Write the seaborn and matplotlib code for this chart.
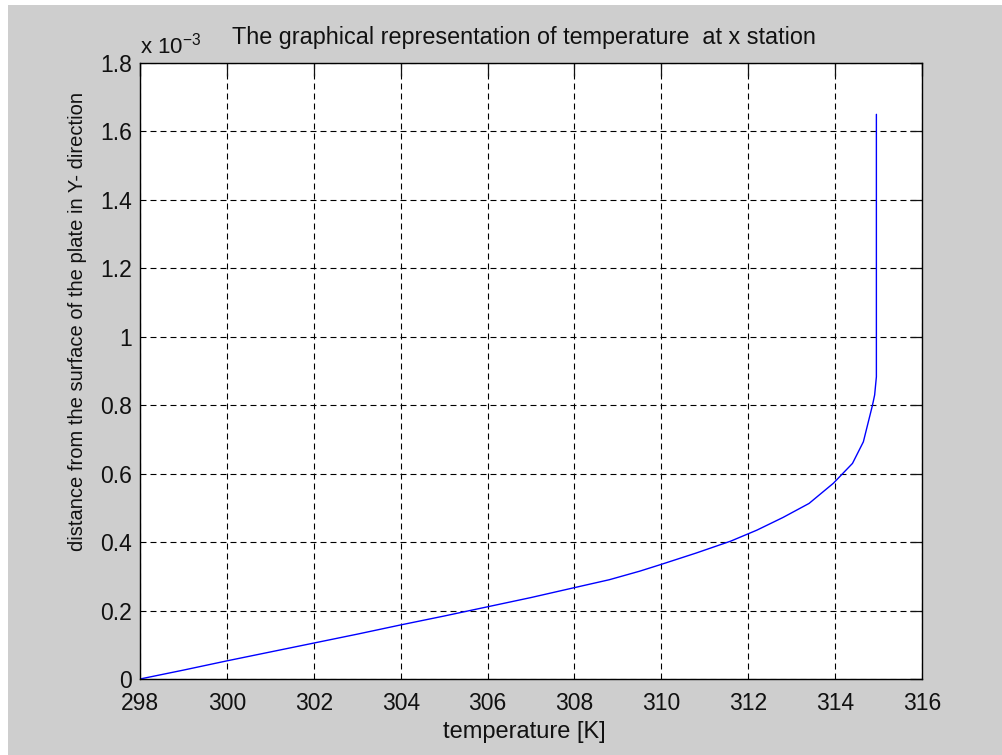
import matplotlib
matplotlib.use('Agg')
import matplotlib.pyplot as plt
import matplotlib.patches as mpatches
import matplotlib.ticker as mticker
import pandas as pd
import seaborn as sns

# dados (distância em unidades de 1e-3)
temperatura = [298.0, 299.0, 300.0, 301.0, 302.0, 303.0, 304.0, 305.0, 306.0, 307.0,
               308.0, 308.8, 309.5, 310.0, 310.8, 311.6, 312.2, 312.8, 313.4, 313.96,
               314.4, 314.65, 314.86, 314.91, 314.95, 314.95]
distancia = [0.0, 0.026, 0.053, 0.079, 0.105, 0.131, 0.158, 0.184, 0.211, 0.238,
             0.267, 0.290, 0.315, 0.335, 0.368, 0.403, 0.435, 0.472, 0.513, 0.572,
             0.630, 0.693, 0.800, 0.830, 0.883, 1.650]
xticks = [298, 300, 302, 304, 306, 308, 310, 312, 314, 316]
yticks = [0, 0.2, 0.4, 0.6, 0.8, 1.0, 1.2, 1.4, 1.6, 1.8]

df = pd.DataFrame({'T': temperatura, 'y': distancia})

sns.set_style('white')
plt.rcParams['font.family'] = ['Liberation Sans', 'DejaVu Sans']
plt.rcParams['lines.scale_dashes'] = False

texto = '#111111'

fig = plt.figure(figsize=(10.03, 7.55), dpi=100, facecolor='white')
fig.patches.append(mpatches.Rectangle((8 / 1003, 0), 1, 1 - 5 / 755, transform=fig.transFigure,
                                      facecolor='#cecece', edgecolor='none', zorder=-10))
ax = fig.add_axes([140 / 1003, 76 / 755, 782 / 1003, 616 / 755])
ax.set_facecolor('white')

sns.lineplot(data=df, x='T', y='y', sort=False, estimator=None, color='#0000ff',
             linewidth=1.0, ax=ax)

ax.set_xlim(298, 316)
ax.set_ylim(0, 1.8)
ax.set_xticks(xticks)
ax.set_yticks(yticks)
ax.yaxis.set_major_formatter(mticker.FuncFormatter(lambda v, p: f'{v:g}'))
ax.grid(True, color='black', linestyle=(0, (4.3, 2.9)), linewidth=0.8)
ax.tick_params(direction='in', length=9, width=0.9, top=True, right=True,
               labelsize=16.5, colors=texto, pad=6)
ax.tick_params(axis='x', pad=9)
for s in ax.spines.values():
    s.set_color('black')
    s.set_linewidth(1.0)

ax.set_xlabel('temperature [K]', fontsize=17, color=texto, labelpad=5)
ax.xaxis.label.set_x(0.491)
ax.set_ylabel('distance from the surface of the plate in Y- direction', fontsize=14.5,
              color=texto)
ax.yaxis.set_label_coords(-0.068, 0.581)
ax.set_title('The graphical representation of temperature  at x station', fontsize=16.8,
             color=texto, pad=14, x=0.4905)
ax.text(0.0, 1.008, r'x 10$^{\mathregular{-3}}$', transform=ax.transAxes, fontsize=16,
        color=texto, ha='left', va='bottom')

fig.savefig('out.png', dpi=100, facecolor=fig.get_facecolor())
